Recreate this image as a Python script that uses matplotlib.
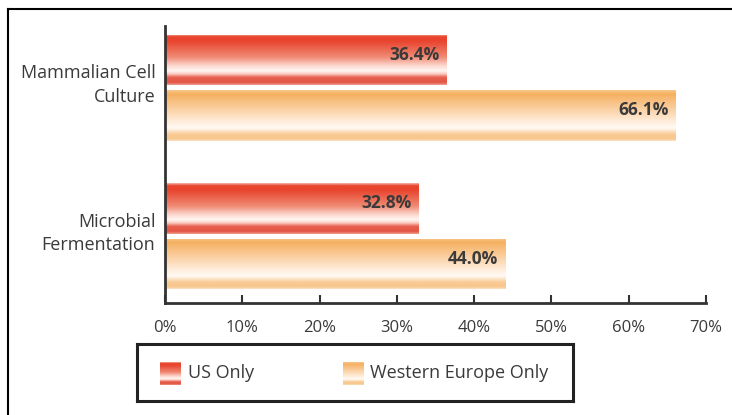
import numpy as np
import matplotlib
matplotlib.use("Agg")
import matplotlib.pyplot as plt
from matplotlib.colors import LinearSegmentedColormap
from matplotlib.lines import Line2D

# production share by host system and region
categories = ["Mammalian Cell\nCulture", "Microbial\nFermentation"]
series_names = ["US Only", "Western Europe Only"]
us_values = [36.4, 32.8]
we_values = [66.1, 44.0]
x_ticks = [0, 10, 20, 30, 40, 50, 60, 70]

plt.rcParams["font.family"] = ["Open Sans", "DejaVu Sans"]
TEXT = "#3a3a3a"

# vertical shading of each bar: strong at the top, fading to white, thin band at the bottom
red_cmap = LinearSegmentedColormap.from_list("red_bar", [
    (0.00, "#f5b8a8"), (0.05, "#e8442e"), (0.14, "#e8452f"), (0.45, "#f08a73"),
    (0.62, "#fcd8cf"), (0.72, "#fff6f3"), (0.78, "#fbcfc5"), (0.85, "#e8604e"),
    (0.95, "#e35544"), (1.00, "#f0a090")])
orange_cmap = LinearSegmentedColormap.from_list("orange_bar", [
    (0.00, "#f9c88e"), (0.08, "#f5b060"), (0.45, "#fcd9b4"), (0.65, "#fff1e2"),
    (0.75, "#fffaf4"), (0.82, "#fbdcb8"), (0.88, "#f8c890"), (0.96, "#f8c890"),
    (1.00, "#fbe2c6")])
grad = np.linspace(0, 1, 256).reshape(-1, 1)

fig = plt.figure(figsize=(7.32, 4.15), dpi=100)
ax = fig.add_axes([165 / 732, 112 / 415, 541 / 732, 277 / 415])

centers = np.arange(len(categories))
bar_h = 0.343
offset = 0.187

def shaded_bars(ypos, values, cmap):
    bars = ax.barh(ypos, values, height=bar_h, color="none", edgecolor="none")
    for bar in bars:
        x0, y0 = bar.get_x(), bar.get_y()
        w, h = bar.get_width(), bar.get_height()
        im = ax.imshow(grad, cmap=cmap, aspect="auto", origin="upper",
                       extent=(x0, x0 + w, y0 + h, y0), interpolation="bilinear")
        im.set_clip_path(bar)
    return bars

shaded_bars(centers - offset, us_values, red_cmap)
shaded_bars(centers + offset, we_values, orange_cmap)

for ypos, values in [(centers - offset, us_values), (centers + offset, we_values)]:
    for y, v in zip(ypos, values):
        ax.text(v - 0.9, y - 0.035, f"{v:.1f}%", ha="right", va="center",
                fontsize=12.5, fontweight="bold", color=TEXT)

ax.set_xlim(0, 70)
ax.set_ylim(1.4495, -0.416)
ax.set_xticks(x_ticks)
ax.set_xticklabels([f"{t}%" for t in x_ticks], fontsize=12, color=TEXT)
ax.set_yticks(centers - 0.05)
ax.set_yticklabels(categories, fontsize=13, color=TEXT, linespacing=1.4)
ax.tick_params(axis="x", direction="in", length=6, width=1.5, color="#333333", pad=12)
ax.tick_params(axis="y", length=0, pad=7)
for side in ["top", "right"]:
    ax.spines[side].set_visible(False)
for side in ["left", "bottom"]:
    ax.spines[side].set_linewidth(2)
    ax.spines[side].set_color("#333333")

# outer frame (left and top edges)
fx, fy = 8 / 732, 1 - 9 / 415
fig.add_artist(Line2D([fx, fx], [0, fy], color="black", lw=1.5))
fig.add_artist(Line2D([fx, 1], [fy, fy], color="black", lw=1.5))

# legend box
lg = fig.add_axes([137 / 732, 14 / 415, 436 / 732, 57 / 415])
lg.set_xticks([])
lg.set_yticks([])
for s in lg.spines.values():
    s.set_linewidth(2.2)
    s.set_color("#222222")
for name, cmap, sx, tx in [(series_names[0], red_cmap, 23, 51),
                           (series_names[1], orange_cmap, 206, 233)]:
    lg.imshow(grad, cmap=cmap, aspect="auto", origin="upper",
              extent=(sx, sx + 21, 41, 19), interpolation="bilinear")
    lg.text(tx, 29, name, ha="left", va="center", fontsize=13, color=TEXT)
lg.set_xlim(0, 436)
lg.set_ylim(57, 0)

fig.savefig("out.png", dpi=100)
